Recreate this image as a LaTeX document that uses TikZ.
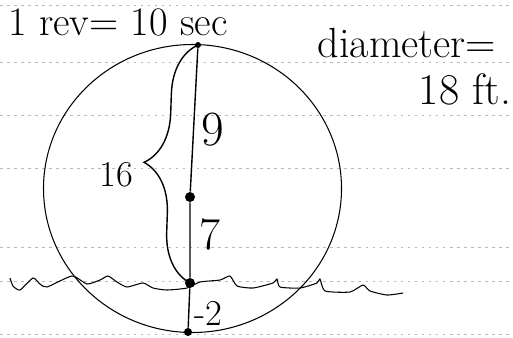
\documentclass[tikz,border=0pt]{standalone}
\usepackage{amsmath,amsfonts,amssymb}
\usepackage{tikz}
\usetikzlibrary{calc,decorations.pathreplacing}

\begin{document}
\begin{tikzpicture}[dot/.style={circle, fill=black, inner sep=0pt, minimum size=#1},
    paper/.style={gray!55, dash pattern=on 1.5pt off 2.5pt}]
    \useasboundingbox (0,0) rectangle (10.26,6.74);
    % notebook lines
    \foreach \y in {6.64,5.50,4.44,3.38,1.80,1.12,0.06}
      \draw[paper] (0,\y) -- (10.26,\y);
    % wheel
    \draw[semithick] (3.85,2.97) ellipse (2.98 and 2.88);
    \node[dot=0.12cm] (top) at (3.96,5.84) {};
    \node[dot=0.2cm] (hub) at (3.80,2.80) {};
    \node[dot=0.2cm] (water) at (3.80,1.08) {};
    \node[dot=0.16cm] (bottom) at (3.76,0.10) {};
    \draw[thick] (top) -- (hub) -- (water) -- (bottom);
    \draw[thick, decorate, decoration={brace, amplitude=1cm}] (water.center) -- (top.center);
    % water surface
    \draw[semithick] plot[smooth, tension=0.35] coordinates {(0.20,1.18) (0.26,1.02) (0.40,0.94) (0.66,1.18) (0.80,1.06) (0.94,1.00) (1.44,1.22) (1.74,1.06) (2.00,1.14) (2.16,1.22) (2.34,1.10) (2.54,1.00) (2.86,1.08) (3.06,0.98) (3.34,0.94) (3.74,0.98) (4.00,1.10) (4.40,1.14) (4.60,1.22) (4.74,1.02) (5.06,0.98) (5.46,1.08) (5.54,1.16) (5.60,1.00) (6.00,0.98) (6.34,1.08) (6.40,1.16) (6.50,0.92) (7.00,0.90) (7.26,1.04) (7.40,0.92) (7.74,0.84) (8.06,0.88)};
    % labels
    \node (rev) at (2.36,6.30) [font=\fontsize{23}{25}\selectfont] {1 rev= 10 sec};
    \node (diam) at (8.14,5.88) [font=\fontsize{24}{26}\selectfont] {diameter=};
    \node (ft) at (9.30,4.96) [font=\fontsize{25}{27}\selectfont] {18 ft.};
    \node (sixteen) at (2.32,3.24) [font=\huge] {16};
    \node (nine) at (4.26,4.14) [font=\fontsize{28}{30}\selectfont] {9};
    \node (seven) at (4.20,2.06) [font=\fontsize{26}{28}\selectfont] {7};
    \node (minus) at (4.16,0.48) [font=\huge] {-2};
  \end{tikzpicture}
\end{document}
